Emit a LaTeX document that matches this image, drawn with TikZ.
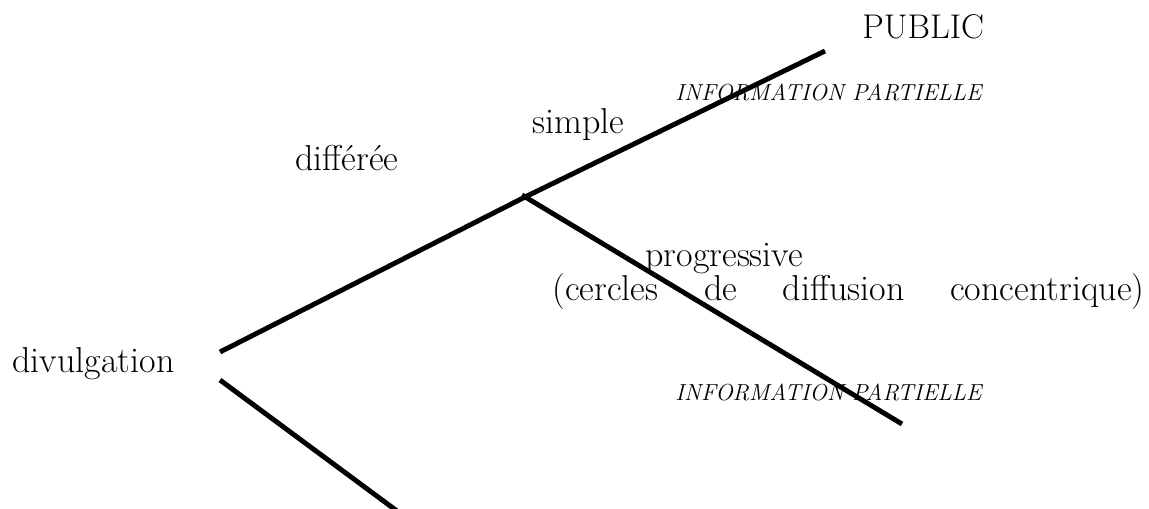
\documentclass[tikz,border=0pt]{standalone}
\begin{document}
\begin{tikzpicture}[x=0.02cm, y=-0.02cm, line width=2.8pt, every node/.style={inner sep=0pt, anchor=base west, font=\fontsize{20.5}{24}\selectfont}, info/.style={font=\fontsize{13.2}{16}\selectfont\itshape}]
	\useasboundingbox (0,0) rectangle (1149,508);
	\clip (0,0) rectangle (1149,508);
	
	\coordinate (1) at (220,352);
	\coordinate (2) at (525,197);
	\coordinate (3) at (825,51);
	\coordinate (4) at (522,195);
	\coordinate (5) at (902,424);
	\coordinate (6) at (220,380);
	\coordinate (7) at (420,528);
	
	\node[font=\fontsize{19.5}{23}\selectfont] (pub) at (860,38) {PUBLIC};
	\node[info] (ip1) at (673,100) {INFORMATION PARTIELLE};
	\node (sim) at (530,133) {simple};
	\node (dif) at (293,170) {différée};
	\node (pro) at (643,266) {progressive};
	\node (cer) at (550,300) {\makebox[11.84cm][s]{(cercles de diffusion concentrique)}};
	\node (div) at (10,372) {divulgation};
	\node[info] (ip2) at (673,400) {INFORMATION PARTIELLE};
	
	\draw (1) -- (2);
	\draw (2) -- (3);
	\draw (4) -- (5);
	\draw (6) -- (7);
	
\end{tikzpicture}
\end{document}
